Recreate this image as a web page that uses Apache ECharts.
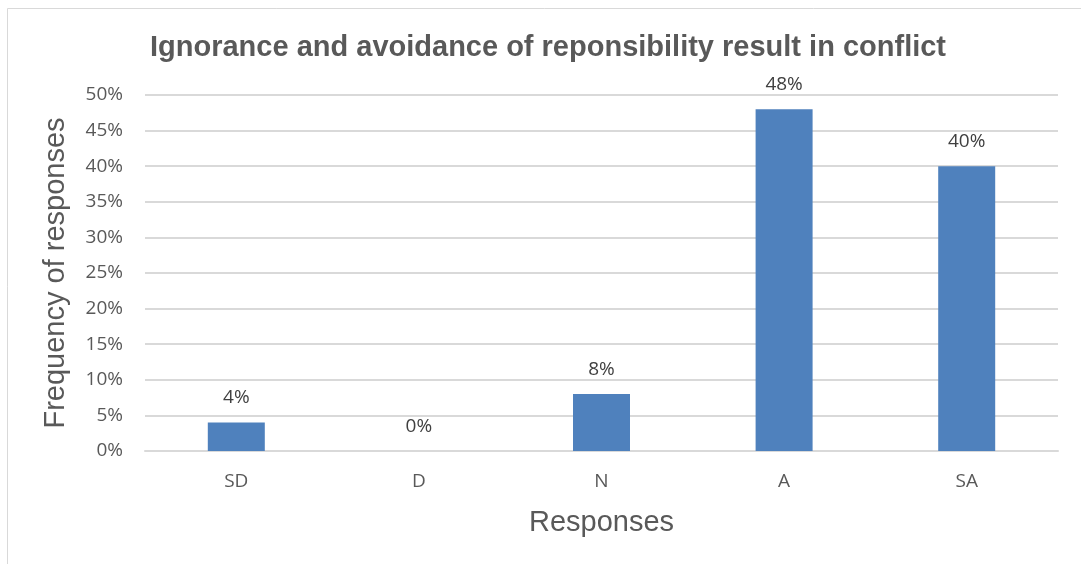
<!DOCTYPE html>
<html>
<head>
<meta charset="utf-8">
<script src="https://cdn.jsdelivr.net/npm/echarts@6/dist/echarts.min.js"></script>
<style>
html, body { margin: 0; padding: 0; background: #fff; }
#main { width: 1081px; height: 564px; }
</style>
</head>
<body>
<div id="main"></div>
<script>
var categories = ['SD', 'D', 'N', 'A', 'SA'];
var values = [4, 0, 8, 48, 40];
var yTicks = [0, 5, 10, 15, 20, 25, 30, 35, 40, 45, 50];

var myChart = echarts.init(document.getElementById('main'));
var option = {
    backgroundColor: '#fff',
    animation: false,
    graphic: [{
        type: 'rect',
        shape: { x: 7.5, y: 8.5, width: 1200, height: 700 },
        style: { fill: 'none', stroke: '#d9d9d9', lineWidth: 1 },
        silent: true
    }],
    title: {
        text: 'Ignorance and avoidance of reponsibility result in conflict',
        left: 145,
        top: 28,
        textStyle: {
            fontFamily: 'Liberation Sans',
            fontWeight: 'bold',
            fontSize: 29,
            color: '#595959'
        }
    },
    grid: { left: 145, right: 23, top: 95, bottom: 113 },
    xAxis: {
        type: 'category',
        data: categories,
        name: 'Responses',
        nameLocation: 'middle',
        nameGap: 57,
        nameTextStyle: { fontFamily: 'Liberation Sans', fontSize: 29, color: '#595959' },
        axisLine: { lineStyle: { color: '#d9d9d9', width: 2 } },
        axisTick: { show: false },
        axisLabel: { fontFamily: 'Open Sans', fontSize: 19, color: '#595959', margin: 21 }
    },
    yAxis: {
        type: 'value',
        min: yTicks[0],
        max: yTicks[yTicks.length - 1],
        interval: 5,
        name: 'Frequency of responses',
        nameLocation: 'middle',
        nameGap: 75,
        nameTextStyle: { fontFamily: 'Liberation Sans', fontSize: 29, color: '#595959' },
        axisLine: { show: false },
        axisTick: { show: false },
        axisLabel: {
            fontFamily: 'Open Sans', fontSize: 19, color: '#595959', margin: 22,
            formatter: function (v) { return v + '%'; }
        },
        splitLine: { lineStyle: { color: '#d9d9d9', width: 2 } }
    },
    series: [{
        type: 'bar',
        data: values,
        barWidth: 57,
        itemStyle: { color: '#4f81bd' },
        label: {
            show: true,
            position: 'top',
            distance: 15,
            fontFamily: 'Open Sans',
            fontSize: 19,
            color: '#404040',
            formatter: function (p) { return p.value + '%'; }
        }
    }]
};
myChart.setOption(option);
window.addEventListener('resize', function () {
    myChart.resize();
});
</script>
</body>
</html>
